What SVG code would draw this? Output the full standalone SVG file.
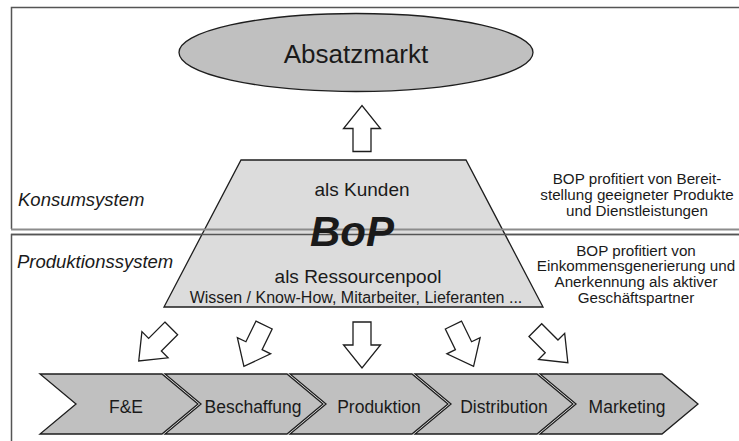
<svg xmlns="http://www.w3.org/2000/svg" width="739" height="441" viewBox="0 0 739 441">
<style>
text{font-family:"Liberation Sans",Arial,sans-serif;fill:#1a1a1a}
.c{text-anchor:middle}
.it{font-style:italic}
.blk{stroke:#1e1e1e;stroke-width:1.3;stroke-linejoin:miter}
.arrow{fill:#fff;stroke:#1e1e1e;stroke-width:1.3}
.chev{fill:#c0c0c0;stroke:#1e1e1e;stroke-width:1.3}
.note{font-size:15.2px}
</style>
<defs>
<polygon id="blockArrow" points="-9,-23 9,-23 9,0 18.5,0 0,23 -18.5,0 -9,0"/>
</defs>
<rect width="739" height="441" fill="#fff"/>
<g id="konsumsystem-box">
<path d="M760,7.5 H11.5 V229" fill="none" stroke="#555" stroke-width="1.5"/>
</g>
<g id="produktionssystem-box">
<path d="M760,234.5 H11.5 V445" fill="none" stroke="#555" stroke-width="1.5"/>
</g>
<g id="absatzmarkt">
<ellipse cx="356" cy="52.5" rx="177" ry="39" fill="#c0c0c0" class="blk"/>
<text x="356" y="63" class="c" font-size="26">Absatzmarkt</text>
</g>
<g id="bop">
<polygon points="241,160 466,160 543,307 164,307" fill="#dcdcdc" class="blk"/>
</g>
<g id="system-divider">
<line x1="11" y1="229.5" x2="739" y2="229.5" stroke="#8c8c8c" stroke-width="2"/>
<line x1="11" y1="234.5" x2="739" y2="234.5" stroke="#555" stroke-width="1.5"/>
</g>
<g id="bop-text">
<text x="362" y="196" class="c" font-size="19">als Kunden</text>
<text x="352" y="246" class="c" font-size="42" font-weight="bold" font-style="italic">BoP</text>
<text x="358" y="283" class="c" font-size="19">als Ressourcenpool</text>
<text x="356" y="303" class="c" font-size="16">Wissen / Know-How, Mitarbeiter, Lieferanten ...</text>
</g>
<g id="labels">
<text x="18" y="206" class="it" font-size="18.5">Konsumsystem</text>
<text x="17" y="268" class="it" font-size="18.5">Produktionssystem</text>
<text class="c note"><tspan x="637" y="184">BOP profitiert von Bereit-</tspan><tspan x="637" y="200">stellung geeigneter Produkte</tspan><tspan x="637" y="216">und Dienstleistungen</tspan></text>
<text class="c note"><tspan x="636" y="255.5">BOP profitiert von</tspan><tspan x="636" y="271.3">Einkommensgenerierung und</tspan><tspan x="636" y="287.1">Anerkennung als aktiver</tspan><tspan x="636" y="302.9">Geschäftspartner</tspan></text>
</g>
<g id="connectors">
<use href="#blockArrow" class="arrow" transform="translate(362,128.5) rotate(180)"/>
<use href="#blockArrow" class="arrow" transform="translate(155,344.7) rotate(45)"/>
<use href="#blockArrow" class="arrow" transform="translate(254,345.7) rotate(26)"/>
<use href="#blockArrow" class="arrow" transform="translate(362,345)"/>
<use href="#blockArrow" class="arrow" transform="translate(463.5,345.7) rotate(-26)"/>
<use href="#blockArrow" class="arrow" transform="translate(551.6,346.4) rotate(-45)"/>
</g>
<g id="fe">
<polygon class="chev" points="40,374 162,374 198,404 162,434 40,434 76,404"/>
<text x="126" y="413" class="c" font-size="17.5">F&amp;E</text>
</g>
<g id="beschaffung">
<polygon class="chev" points="165,374 287,374 323,404 287,434 165,434 201,404"/>
<text x="253" y="413" class="c" font-size="17.5">Beschaffung</text>
</g>
<g id="produktion">
<polygon class="chev" points="290,374 412,374 448,404 412,434 290,434 326,404"/>
<text x="379" y="413" class="c" font-size="17.5">Produktion</text>
</g>
<g id="distribution">
<polygon class="chev" points="415,374 537,374 573,404 537,434 415,434 451,404"/>
<text x="504" y="413" class="c" font-size="17.5">Distribution</text>
</g>
<g id="marketing">
<polygon class="chev" points="540,374 662,374 698,404 662,434 540,434 576,404"/>
<text x="627" y="413" class="c" font-size="17.5">Marketing</text>
</g>
</svg>
